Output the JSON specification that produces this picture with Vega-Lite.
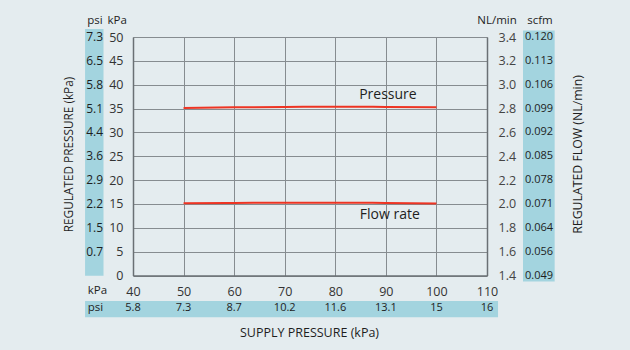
{
  "$schema": "https://vega.github.io/schema/vega-lite/v6.json",
  "width": 354,
  "height": 238.5,
  "autosize": {"type": "none"},
  "padding": {"left": 133, "top": 37, "right": 143, "bottom": 74.5},
  "background": "#e4ecef",
  "config": {
    "view": {"stroke": null},
    "font": "Open Sans",
    "text": {"font": "Open Sans", "color": "#1e1e1e"},
    "axis": {"labelFont": "Open Sans", "titleFont": "Open Sans", "titleFontWeight": "normal", "labelColor": "#333333", "titleColor": "#1e1e1e", "labelOverlap": false, "labelFlush": false, "labelBound": false}
  },
  "datasets": {
    "curves": [
      {"supply": 50, "pressure": 35.14, "flow": 2.006},
      {"supply": 60, "pressure": 35.25, "flow": 2.008},
      {"supply": 70, "pressure": 35.35, "flow": 2.011},
      {"supply": 80, "pressure": 35.4, "flow": 2.011},
      {"supply": 90, "pressure": 35.35, "flow": 2.008},
      {"supply": 100, "pressure": 35.28, "flow": 2.004}
    ],
    "psiLeft": [
      {"kPa": 50, "psi": "7.3"}, {"kPa": 45, "psi": "6.5"}, {"kPa": 40, "psi": "5.8"},
      {"kPa": 35, "psi": "5.1"}, {"kPa": 30, "psi": "4.4"}, {"kPa": 25, "psi": "3.6"},
      {"kPa": 20, "psi": "2.9"}, {"kPa": 15, "psi": "2.2"}, {"kPa": 10, "psi": "1.5"},
      {"kPa": 5, "psi": "0.7"}
    ],
    "psiBottom": [
      {"supply": 40, "psi": "5.8"}, {"supply": 50, "psi": "7.3"}, {"supply": 60, "psi": "8.7"},
      {"supply": 70, "psi": "10.2"}, {"supply": 80, "psi": "11.6"}, {"supply": 90, "psi": "13.1"},
      {"supply": 100, "psi": "15"}, {"supply": 110, "psi": "16"}
    ],
    "scfm": [
      {"nl": 3.4, "scfm": "0.120"}, {"nl": 3.2, "scfm": "0.113"}, {"nl": 3.0, "scfm": "0.106"},
      {"nl": 2.8, "scfm": "0.099"}, {"nl": 2.6, "scfm": "0.092"}, {"nl": 2.4, "scfm": "0.085"},
      {"nl": 2.2, "scfm": "0.078"}, {"nl": 2.0, "scfm": "0.071"}, {"nl": 1.8, "scfm": "0.064"},
      {"nl": 1.6, "scfm": "0.056"}, {"nl": 1.4, "scfm": "0.049"}
    ],
    "one": [{}]
  },
  "layer": [
    {
      "layer": [
        {
          "data": {"name": "one"},
          "mark": {"type": "rect", "color": "#a3d4df"},
          "encoding": {
            "x": {"datum": 30.52, "type": "quantitative",
              "scale": {"domain": [40, 110], "nice": false, "zero": false},
              "axis": {
                "values": [40, 50, 60, 70, 80, 90, 100, 110], "tickCount": 20,
                "grid": true, "gridColor": "#868c90", "gridWidth": 1,
                "domain": true, "domainColor": "#6a7074", "domainWidth": 1.5,
                "ticks": false, "labelPadding": 10, "labelFontSize": 12.5,
                "title": "SUPPLY PRESSURE (kPa)", "titleFontSize": 12.5,
                "titleX": 176, "titleY": 57, "titleAlign": "center", "titleBaseline": "middle"
              }
            },
            "x2": {"datum": 34.17},
            "y": {"datum": 51.68, "type": "quantitative",
              "scale": {"domain": [0, 50], "nice": false, "zero": false},
              "axis": {
                "values": [0, 5, 10, 15, 20, 25, 30, 35, 40, 45, 50], "tickCount": 20,
                "grid": true, "gridColor": "#868c90", "gridWidth": 1,
                "domain": true, "domainColor": "#6a7074", "domainWidth": 1.5,
                "ticks": false, "labelPadding": 10, "labelFontSize": 12.5,
                "title": "REGULATED PRESSURE (kPa)", "titleFontSize": 11.8,
                "titleAngle": 270, "titleX": -65, "titleY": 117,
                "titleAlign": "center", "titleBaseline": "middle"
              }
            },
            "y2": {"datum": -0.06}
          }
        },
        {
          "data": {"name": "one"},
          "mark": {"type": "rect", "color": "#a3d4df"},
          "encoding": {
            "x": {"datum": 30.52, "type": "quantitative"},
            "x2": {"datum": 112.18},
            "y": {"datum": -5.37, "type": "quantitative"},
            "y2": {"datum": -8.77}
          }
        },
        {
          "data": {"name": "one"},
          "mark": {"type": "rect", "color": "#a3d4df"},
          "encoding": {
            "x": {"datum": 117.12, "type": "quantitative"},
            "x2": {"datum": 123.38},
            "y": {"datum": 51.38, "type": "quantitative"},
            "y2": {"datum": -1.26}
          }
        },
        {
          "data": {"name": "curves"},
          "mark": {"type": "line", "color": "#ee3423", "strokeWidth": 2, "interpolate": "monotone"},
          "encoding": {
            "x": {"field": "supply", "type": "quantitative"},
            "y": {"field": "pressure", "type": "quantitative"}
          }
        },
        {
          "data": {"name": "psiLeft"},
          "mark": {"type": "text", "align": "left", "baseline": "middle", "fontSize": 12},
          "encoding": {
            "x": {"datum": 30.75, "type": "quantitative"},
            "y": {"field": "kPa", "type": "quantitative"},
            "text": {"field": "psi"}
          }
        },
        {
          "data": {"name": "psiBottom"},
          "mark": {"type": "text", "align": "center", "baseline": "middle", "fontSize": 11},
          "encoding": {
            "x": {"field": "supply", "type": "quantitative"},
            "y": {"datum": -6.77, "type": "quantitative"},
            "text": {"field": "psi"}
          }
        },
        {
          "data": {"name": "one"},
          "mark": {"type": "text", "text": "psi", "align": "center", "baseline": "middle", "fontSize": 11.5},
          "encoding": {"x": {"datum": 32.46, "type": "quantitative"}, "y": {"datum": 53.31, "type": "quantitative"}}
        },
        {
          "data": {"name": "one"},
          "mark": {"type": "text", "text": "kPa", "align": "center", "baseline": "middle", "fontSize": 11.5},
          "encoding": {"x": {"datum": 36.88, "type": "quantitative"}, "y": {"datum": 53.31, "type": "quantitative"}}
        },
        {
          "data": {"name": "one"},
          "mark": {"type": "text", "text": "NL/min", "align": "center", "baseline": "middle", "fontSize": 11.5},
          "encoding": {"x": {"datum": 111.98, "type": "quantitative"}, "y": {"datum": 53.31, "type": "quantitative"}}
        },
        {
          "data": {"name": "one"},
          "mark": {"type": "text", "text": "scfm", "align": "center", "baseline": "middle", "fontSize": 11.5},
          "encoding": {"x": {"datum": 120.48, "type": "quantitative"}, "y": {"datum": 53.31, "type": "quantitative"}}
        },
        {
          "data": {"name": "one"},
          "mark": {"type": "text", "text": "kPa", "align": "center", "baseline": "middle", "fontSize": 11.5},
          "encoding": {"x": {"datum": 32.95, "type": "quantitative"}, "y": {"datum": -3.21, "type": "quantitative"}}
        },
        {
          "data": {"name": "one"},
          "mark": {"type": "text", "text": "psi", "align": "center", "baseline": "middle", "fontSize": 11.5},
          "encoding": {"x": {"datum": 32.59, "type": "quantitative"}, "y": {"datum": -6.77, "type": "quantitative"}}
        },
        {
          "data": {"name": "one"},
          "mark": {"type": "text", "text": "Pressure", "align": "left", "baseline": "middle", "fontSize": 14},
          "encoding": {"x": {"datum": 84.72, "type": "quantitative"}, "y": {"datum": 37.75, "type": "quantitative"}}
        },
        {
          "data": {"name": "one"},
          "mark": {"type": "text", "text": "Flow rate", "align": "left", "baseline": "middle", "fontSize": 14},
          "encoding": {"x": {"datum": 84.85, "type": "quantitative"}, "y": {"datum": 12.73, "type": "quantitative"}}
        }
      ]
    },
    {
      "layer": [
        {
          "data": {"name": "curves"},
          "mark": {"type": "line", "color": "#ee3423", "strokeWidth": 2, "interpolate": "monotone"},
          "encoding": {
            "x": {"field": "supply", "type": "quantitative"},
            "y": {"field": "flow", "type": "quantitative",
              "scale": {"domain": [1.4, 3.4], "nice": false, "zero": false},
              "axis": {
                "orient": "right",
                "values": [1.4, 1.6, 1.8, 2.0, 2.2, 2.4, 2.6, 2.8, 3.0, 3.2, 3.4], "tickCount": 20,
                "format": ".1f",
                "grid": false,
                "domain": true, "domainColor": "#6a7074", "domainWidth": 1.5,
                "ticks": false, "labelPadding": 11, "labelFontSize": 12.5, "labelColor": "#444444",
                "title": "REGULATED FLOW (NL/min)", "titleFontSize": 12.3,
                "titleAngle": 270, "titleX": 90, "titleY": 117,
                "titleAlign": "center", "titleBaseline": "middle"
              }
            }
          }
        },
        {
          "data": {"name": "scfm"},
          "mark": {"type": "text", "align": "center", "baseline": "middle", "fontSize": 11},
          "encoding": {
            "x": {"datum": 120.28, "type": "quantitative"},
            "y": {"field": "nl", "type": "quantitative"},
            "text": {"field": "scfm"}
          }
        }
      ]
    }
  ],
  "resolve": {"scale": {"y": "independent"}}
}
